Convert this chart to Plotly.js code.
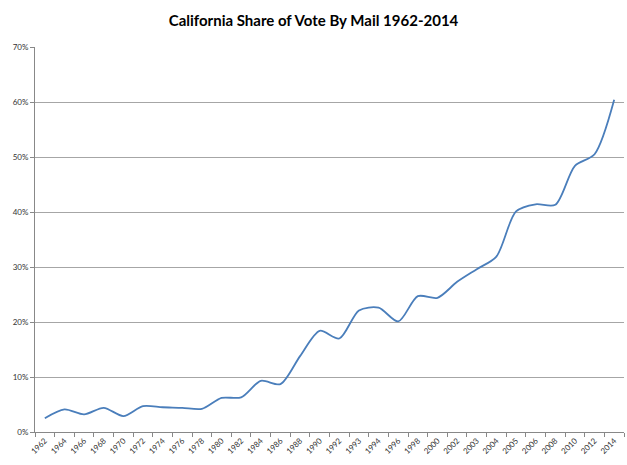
<!DOCTYPE html>
<html>
<head>
<meta charset="utf-8">
<script src="https://cdn.plot.ly/plotly-3.0.1.min.js"></script>
<style>html,body{margin:0;padding:0;background:#fff;}#chart{width:627px;height:465px;}</style>
</head>
<body>
<div id="chart"></div>
<script>
const years = ["1962","1964","1966","1968","1970","1972","1974","1976","1978","1980","1982","1984","1986","1988","1990","1992","1993","1994","1996","1998","2000","2002","2003","2004","2005","2006","2008","2010","2012","2014"];
const shareByMail = [0.025,0.041,0.032,0.044,0.029,0.047,0.045,0.044,0.042,0.062,0.063,0.093,0.087,0.138,0.184,0.170,0.221,0.226,0.201,0.247,0.244,0.273,0.296,0.319,0.401,0.414,0.413,0.484,0.505,0.604];
const yTicks = [0,0.1,0.2,0.3,0.4,0.5,0.6,0.7];
const yTickText = ["0%","10%","20%","30%","40%","50%","60%","70%"];

const trace = {
  x: years, y: shareByMail, type: "scatter", mode: "lines",
  line: {color: "#4a7ebb", width: 1.8, shape: "spline", smoothing: 0.8},
  hoverinfo: "skip"
};
const layout = {
  width: 627, height: 465,
  margin: {l: 35, r: 3, t: 47, b: 33},
  paper_bgcolor: "#fff", plot_bgcolor: "#fff",
  showlegend: false,
  title: {text: "<b>California Share of Vote By Mail 1962-2014</b>", x: 0.5, xanchor: "center", y: 0.955, yanchor: "middle",
          font: {family: "Lato, 'Open Sans', sans-serif", size: 15, color: "#000"}},
  xaxis: {type: "category", range: [-0.5, years.length - 0.5], showgrid: false, zeroline: false,
          showline: true, linecolor: "#888", linewidth: 1,
          ticks: "outside", ticklen: 4, tickcolor: "#888", tickson: "boundaries",
          tickangle: -45, tickfont: {family: "Lato, 'Open Sans', sans-serif", size: 8, color: "#333"},
          automargin: false, fixedrange: true},
  yaxis: {range: [0, 0.7], tickvals: yTicks, ticktext: yTickText,
          showgrid: true, gridcolor: "#a6a6a6", gridwidth: 1, zeroline: false,
          showline: true, linecolor: "#888", linewidth: 1,
          ticks: "outside", ticklen: 4, tickcolor: "#888",
          tickfont: {family: "Lato, 'Open Sans', sans-serif", size: 8, color: "#333"},
          automargin: false, fixedrange: true}
};
Plotly.newPlot("chart", [trace], layout, {displayModeBar: false, staticPlot: true});
</script>
</body>
</html>
